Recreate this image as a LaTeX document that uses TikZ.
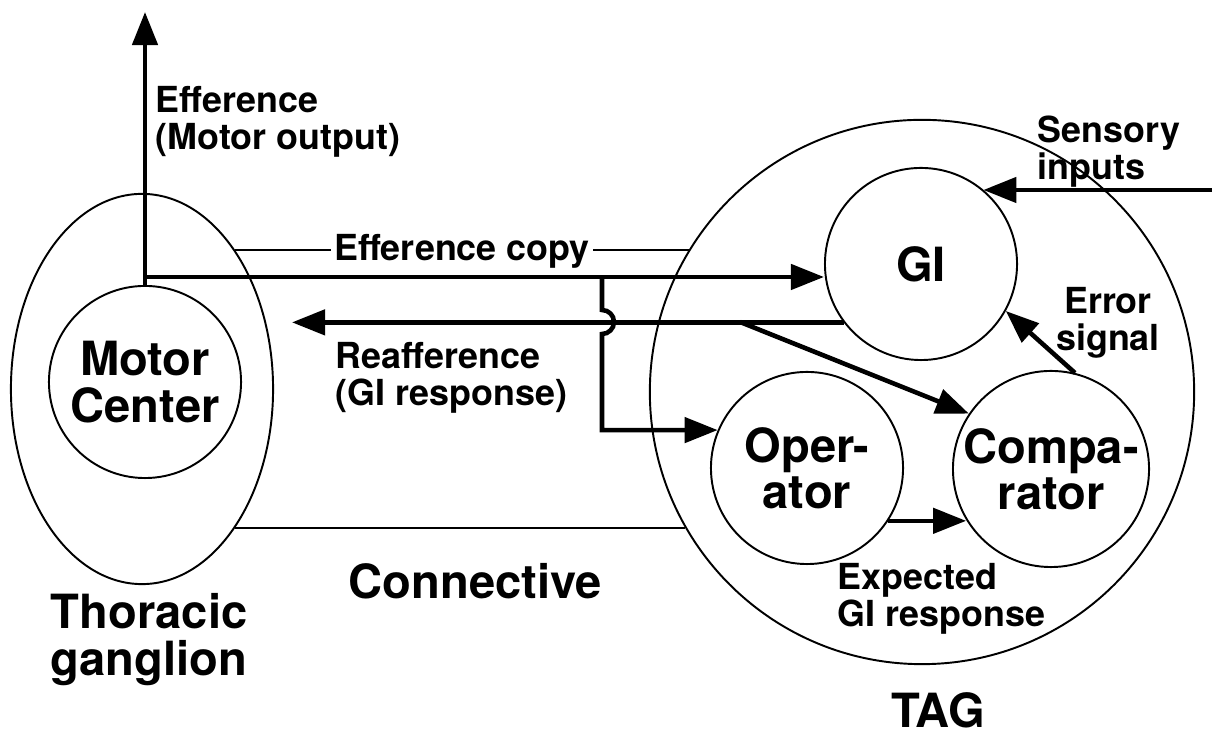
\documentclass[tikz,border=0pt]{standalone}
\usepackage{fontspec}
\setmainfont{TeX Gyre Heros}
\usetikzlibrary{arrows.meta,shapes.geometric}

\begin{document}
\begin{tikzpicture}[x=0.01cm,y=0.01cm,
        ring/.style={circle,draw,line width=0.55pt,inner sep=0pt},
        flow/.style={line width=1.3pt,-{Triangle[length=0.33cm,width=0.25cm]}},
        smalltxt/.style={font=\fontsize{10.2}{10.5}\selectfont\bfseries,inner sep=0pt},
        bigtxt/.style={font=\fontsize{13.4}{13.2}\selectfont\bfseries,inner sep=0pt}]
            \useasboundingbox (0,0) rectangle (1212,737);

            % ganglia and their parts
            \node (TG) at (142,348) [ellipse,draw,line width=0.55pt,minimum width=2.62cm,minimum height=3.9cm] {};
            \node (MC) at (145,355) [ring,minimum size=1.92cm,bigtxt,align=center] {Motor\\Center};
            \node (TAG) at (922,345) [ring,minimum size=5.44cm] {};
            \node (GI) at (921,473) [ring,minimum size=1.92cm,bigtxt] {GI};
            \node (Op) at (807,269) [ring,minimum size=1.92cm,bigtxt,align=center] {Oper-\\ator};
            \node (Cmp) at (1051,268) [ring,minimum size=1.96cm,bigtxt,align=center] {Compa-\\rator};

            % connective
            \draw[line width=0.55pt] (TG.56) -- (TG.56 -| TAG.148) (TG.-56) -- (TG.-56 -| TAG.210);
            \node (ecl) at (462,486) [smalltxt,fill=white,inner xsep=0.8pt] {Efference copy};

            % labels
            \node (effl) at (155,651) [smalltxt,anchor=north west,align=left] {Efference\\(Motor output)};
            \node (reafl) at (335,395) [smalltxt,anchor=north west,align=left] {Reafference\\(GI response)};
            \node (sensl) at (1037,622) [smalltxt,anchor=north west,align=left] {Sensory\\inputs};
            \node (errl) at (1108,450) [smalltxt,anchor=north,align=center] {Error\\signal};
            \node (expl) at (837,174) [smalltxt,anchor=north west,align=left] {Expected\\GI response};
            \node (conn) at (348,174) [bigtxt,anchor=north west] {Connective};
            \node (tgl) at (50,144) [bigtxt,anchor=north west,align=left] {Thoracic\\ganglion};
            \node (tagl) at (938,45) [bigtxt,anchor=north] {TAG};

            % signal paths
            \coordinate (up) at (145,725);
            \coordinate (br) at (145,460);
            \coordinate (hop) at (602,460);
            \coordinate (rtip) at (292,415);
            \coordinate (rj) at (740,415);
            \coordinate (sens) at (1212,547);

            \draw[flow] (MC.north) -- (up);
            \draw[flow] (br) -- (br -| GI.west);
            \draw[flow] (GI.217) -- (GI.217 -| rtip);
            \draw[flow] (hop) -- (602,427) arc[start angle=90,end angle=-90,radius=0.12cm] -- (hop |- Op.157) -- (Op.157);
            \draw[flow] (rj) -- (Cmp.146);
            \draw[flow] (Op.-33) -- (Op.-33 -| Cmp.211);
            \draw[flow] (Cmp.76) -- (GI.-29);
            \draw[flow] (sens) -- (sens -| GI.50);
        \end{tikzpicture}
\end{document}
